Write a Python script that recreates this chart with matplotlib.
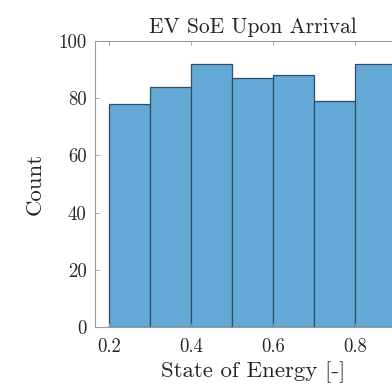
import matplotlib
matplotlib.use("Agg")
import matplotlib.pyplot as plt
import numpy as np

bin_edges = [0.2, 0.3, 0.4, 0.5, 0.6, 0.7, 0.8, 0.9]
counts = [78, 84, 92, 87, 88, 79, 92]
xticks = [0.2, 0.4, 0.6, 0.8]
yticks = [0, 20, 40, 60, 80, 100]

plt.rcParams['font.family'] = 'serif'
plt.rcParams['font.serif'] = ['cmr10']
plt.rcParams['mathtext.fontset'] = 'cm'

fig = plt.figure(figsize=(3.92, 3.84), dpi=100)
ax = fig.add_axes([95/392, 57/384, 316/392, 286/384])

widths = np.diff(bin_edges)
ax.bar(bin_edges[:-1], counts, width=widths, align='edge',
       color='#64a8d6', edgecolor='#2e4e66', linewidth=0.9)

ax.set_xlim(0.166, 0.937)
ax.set_ylim(0, 100)
ax.set_xticks(xticks)
ax.set_xticklabels(['0.2', '0.4', '0.6', '0.8'])
ax.set_yticks(yticks)
ax.set_yticklabels([str(v) for v in yticks])
ax.tick_params(direction='in', length=3, width=0.6, labelcolor='#262626',
               labelsize=13.5, top=True, right=True)
ax.tick_params(axis='x', pad=8)
ax.tick_params(axis='y', pad=6)
for s in ax.spines.values():
    s.set_color('#9a9a9a')
    s.set_linewidth(0.8)
ax.tick_params(color='#9a9a9a')

ax.set_title('EV SoE Upon Arrival', fontsize=15.5, color='#262626', pad=6)
ax.set_xlabel('State of Energy [-]', fontsize=16.5, color='#262626', labelpad=4)
ax.set_ylabel('Count', fontsize=16.5, color='#262626', labelpad=10)

fig.savefig('out.png', dpi=100)
